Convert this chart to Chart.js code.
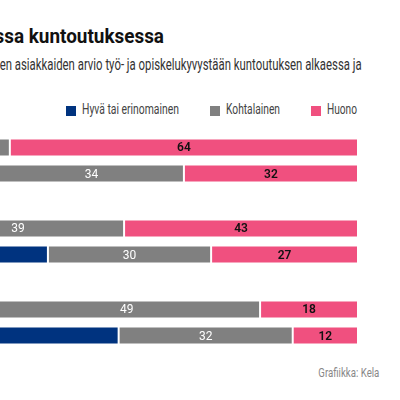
<!DOCTYPE html>
<html>
<head>
<meta charset="utf-8">
<script src="https://cdn.jsdelivr.net/npm/chart.js@4"></script>
<style>
  html, body { margin: 0; padding: 0; background: #fff; }
  body { width: 400px; height: 400px; position: relative; overflow: hidden; font-family: Roboto, sans-serif; }
  .rt { position: absolute; white-space: nowrap; text-align: right; transform-origin: right center; }
  #title { right: 236px; top: 24px; font-size: 21px; font-weight: bold; color: #111; }
  #subtitle { right: 38px; top: 55px; font-size: 16px; color: #333; }
  #source { right: 21px; top: 364px; font-size: 13.5px; color: #888; }
  .leg { position: absolute; top: 101px; font-size: 14.5px; color: #444; white-space: nowrap; }
  .leg span { display: inline-block; transform-origin: left center; }
  .leg i { position: absolute; left: -16px; top: 5px; width: 10px; height: 10px; }
  #chart { position: absolute; left: -186px; top: 120px; }
</style>
</head>
<body>
<div id="title" class="rt">Työ- ja opiskelukyky ammatillisessa kuntoutuksessa</div>
<div id="subtitle" class="rt">Ammatillisen kuntoutuksen asiakkaiden arvio työ- ja opiskelukyvystään kuntoutuksen alkaessa ja</div>
<div id="legend"></div>
<div id="source" class="rt">Grafiikka: Kela</div>
<canvas id="chart" width="586" height="243"></canvas>
<script>
// groups (labels are outside the visible area)
const groups = ['Ryhmä 1', 'Ryhmä 2', 'Ryhmä 3'];
const seriesNames = ['Hyvä tai erinomainen', 'Kohtalainen', 'Huono'];
const colors = ['#00337f', '#808080', '#f0507f'];

// kuntoutuksen alkaessa
const startGood = [6, 18, 33];
const startMid = [30, 39, 49];
const startBad = [64, 43, 18];
// kuntoutuksen päättyessä
const endGood = [34, 43, 56];
const endMid = [34, 30, 32];
const endBad = [32, 27, 12];

// the page font is wider than the original condensed one, squeeze text to fit
const measure = (el, text) => {
    const c = document.createElement('canvas').getContext('2d');
    const cs = getComputedStyle(el);
    c.font = cs.fontWeight + ' ' + cs.fontSize + ' ' + cs.fontFamily;
    return c.measureText(text).width;
};
const squeeze = (el, text, width) => {
    el.style.transform = 'scaleX(' + (width / measure(el, text)).toFixed(3) + ')';
};

const legendLeft = [82, 226, 327];
const legendWidth = [97, 54, 30];
const legendEl = document.getElementById('legend');
seriesNames.forEach((name, i) => {
    const d = document.createElement('div');
    d.className = 'leg';
    d.style.left = legendLeft[i] + 'px';
    d.innerHTML = '<i style="background:' + colors[i] + '"></i><span>' + name + '</span>';
    legendEl.appendChild(d);
    const s = d.querySelector('span');
    squeeze(s, name, legendWidth[i]);
});
squeeze(document.getElementById('title'), 'ssa kuntoutuksessa', 169.5);
squeeze(document.getElementById('subtitle'), 'en asiakkaiden arvio työ- ja opiskelukyvystään kuntoutuksen alkaessa ja', 362);
squeeze(document.getElementById('source'), 'Grafiikka: Kela', 61);

const makeSet = (label, data, i, stack) => ({
    label: label,
    data: data,
    stack: stack,
    backgroundColor: colors[i],
    borderColor: 'rgba(255,255,255,0.45)',
    borderWidth: 1,
    borderSkipped: false,
    categoryPercentage: 0.642,
    barPercentage: 0.692
});

// Draw values in the middle of each segment
const valueLabels = {
    id: 'valueLabels',
    afterDatasetsDraw(chart) {
        const ctx = chart.ctx;
        ctx.save();
        ctx.textAlign = 'center';
        ctx.textBaseline = 'middle';
        chart.data.datasets.forEach((ds, di) => {
            const meta = chart.getDatasetMeta(di);
            const bad = ds.backgroundColor === colors[2];
            ctx.fillStyle = bad ? '#111' : '#fff';
            ctx.font = (bad ? '600 ' : '400 ') + '12px Roboto, sans-serif';
            meta.data.forEach((el, j) => {
                ctx.fillText(String(ds.data[j]), (el.x + el.base) / 2, el.y + 1);
            });
        });
        ctx.restore();
    }
};

new Chart(document.getElementById('chart').getContext('2d'), {
    type: 'bar',
    data: {
        labels: groups,
        datasets: [
            makeSet(seriesNames[0], startGood, 0, 'alku'),
            makeSet(seriesNames[1], startMid, 1, 'alku'),
            makeSet(seriesNames[2], startBad, 2, 'alku'),
            makeSet(seriesNames[0], endGood, 0, 'loppu'),
            makeSet(seriesNames[1], endMid, 1, 'loppu'),
            makeSet(seriesNames[2], endBad, 2, 'loppu')
        ]
    },
    options: {
        indexAxis: 'y',
        responsive: false,
        animation: false,
        devicePixelRatio: 1,
        layout: { padding: { left: 0, right: 42, top: 0, bottom: 0 } },
        scales: {
            x: { stacked: true, min: 0, max: 100, display: false },
            y: { stacked: true, display: false }
        },
        plugins: {
            legend: { display: false },
            tooltip: { enabled: false }
        }
    },
    plugins: [valueLabels]
});
</script>
</body>
</html>
